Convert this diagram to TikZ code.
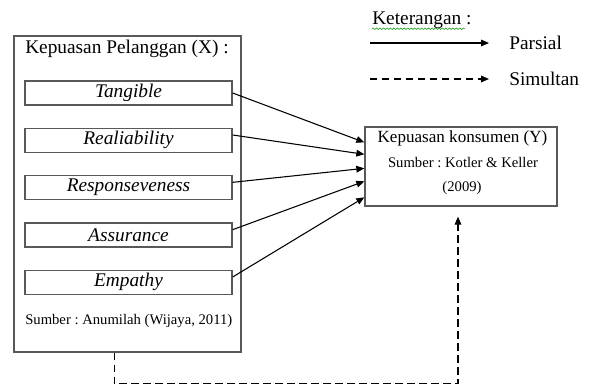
\documentclass[tikz,border=0pt]{standalone}
\usepackage{fontspec}
\setmainfont{Liberation Serif}
\usetikzlibrary{arrows.meta,positioning,calc,decorations.pathmorphing}
\frenchspacing

\begin{document}
\begin{tikzpicture}[
    x=0.75pt, y=-0.75pt,
    node distance=16.5pt,
    frame/.style={draw=black!65, line width=1pt},
    dim/.style={frame, minimum width=155.25pt, minimum height=18pt, inner sep=0pt, font=\fontsize{14.5}{16}\selectfont\itshape},
    lbl/.style={inner sep=0pt, font=\fontsize{14.5}{17}\selectfont},
    src/.style={inner sep=0pt, font=\fontsize{11}{13}\selectfont},
    arr/.style={-{Triangle[length=6pt, width=5pt]}, line width=0.8pt},
    simarr/.style={arr, dash pattern=on 5.5pt off 3.5pt}
]
    \useasboundingbox (0,0) rectangle (592,385);
    % Variabel X with its five dimensions
    \node[frame, minimum width=170.25pt, minimum height=237pt, inner sep=0pt] (pel) at (127.5,194) {};
    \node[lbl, anchor=west] (judulx) at (25,49) {Kepuasan Pelanggan (X) :};
    \node[dim] (tan) at (128.5,93) {Tangible};
    \node[dim, below=of tan] (rea) {Realiability};
    \node[dim, below=of rea] (res) {Responseveness};
    \node[dim, below=of res] (ass) {Assurance};
    \node[dim, below=of ass] (emp) {Empathy};
    \node[src, anchor=west] (sumx) at (25,321) {Sumber : Anumilah (Wijaya, 2011)};

    % Variabel Y
    \node[frame, minimum width=144pt, minimum height=59.25pt, inner sep=0pt] (kon) at (461,166.5) {};
    \node[inner sep=0pt, font=\fontsize{12.8}{15}\selectfont] (judury) at (462.5,138) {Kepuasan konsumen (Y)};
    \node[src] (sumy) at (463,163) {Sumber : Kotler \& Keller};
    \node[src] (thny) at (462,188) {(2009)};

    % Parsial: each dimension to Y
    \draw[arr] (tan.east) -- ($(kon.north west)+(0,16)$);
    \draw[arr] ([yshift=4pt]rea.east) -- ($(kon.north west)+(0,28)$);
    \draw[arr] ([yshift=4pt]res.east) -- ($(kon.north west)+(0,42)$);
    \draw[arr] ([yshift=4pt]ass.east) -- ($(kon.north west)+(0,55)$);
    \draw[arr] ([yshift=4pt]emp.east) -- ($(kon.north west)+(0,71)$);

    % Simultan: X to Y
    \draw[simarr] ([xshift=-10pt]pel.south) -- ++(0,31) -| ([xshift=-2.25pt,yshift=-7.5pt]kon.south);

    % Keterangan
    \node[lbl, anchor=west] (ket) at (372,20) {Keterangan :};
    \draw[green!60!black, line width=0.4pt, decorate, decoration={snake, amplitude=0.6pt, segment length=2.6pt}] (ket.south west) -- ([xshift=-5pt]ket.south east);
    \node[lbl, anchor=west] (par) at (509,43) {Parsial};
    \node[lbl, anchor=west] (sim) at (509,79) {Simultan};
    \coordinate (pa) at (370,43);
    \coordinate (si) at (370,79);
    \draw[arr] (pa) -- ([xshift=-15pt]par.west);
    \draw[simarr] (si) -- ([xshift=-15pt]sim.west);
\end{tikzpicture}
\end{document}
